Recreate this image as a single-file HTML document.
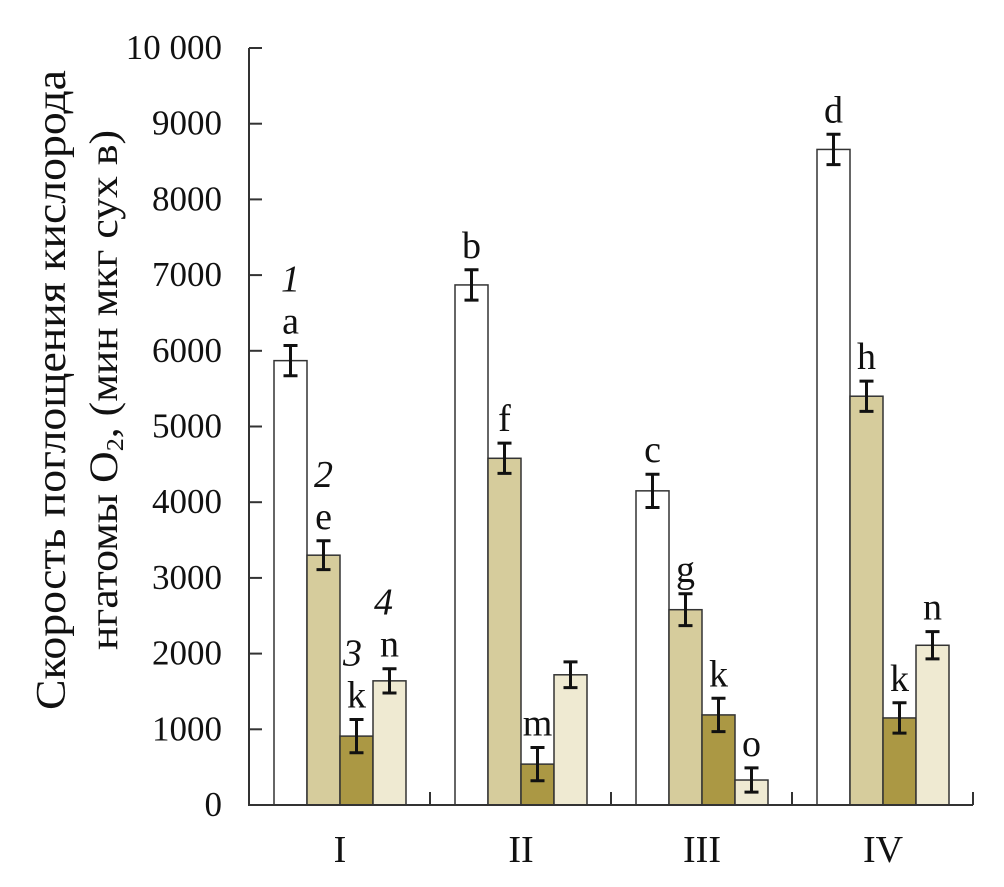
<!DOCTYPE html>
<html><head><meta charset="utf-8"><style>
body{margin:0;background:#fff}
svg text{font-family:"Liberation Serif","Times New Roman",Times,serif;fill:#111}
</style></head><body>
<svg width="1004" height="882">
<g id="chart"></g>
</svg>
<script>
const categories=["I","II","III","IV"];
const s1=[5870,6870,4150,8660];
const s2=[3300,4580,2580,5400];
const s3=[910,540,1190,1150];
const s4=[1640,1720,330,2110];
const errs=[[200,200,220,200],[190,200,210,200],[220,220,220,200],[160,170,160,180]];
const letters=[["a","b","c","d"],["e","f","g","h"],["k","m","k","k"],["n","","o","n"]];
const seriesNums=["1","2","3","4"];
const yTicks=[0,1000,2000,3000,4000,5000,6000,7000,8000,9000,10000];
const yTickLabels=["0","1000","2000","3000","4000","5000","6000","7000","8000","9000","10 000"];
const series=[s1,s2,s3,s4];
const colors=["#ffffff","#d6cc9c","#ab9844","#efead2"];
const ns="http://www.w3.org/2000/svg";
const g=document.getElementById("chart");
const X0=249,X1=973,Y0=805,Ytop=48;
const y=v=>Y0-(v/10000)*(Y0-Ytop);
const catW=(X1-X0)/categories.length;
const x=(ci,si)=>X0+ci*catW+25+si*33;
function el(t,a,txt){const e=document.createElementNS(ns,t);for(const k in a)e.setAttribute(k,a[k]);if(txt!==undefined)e.textContent=txt;g.appendChild(e);return e;}
series.forEach((s,si)=>s.forEach((v,ci)=>{
 const r=el("rect",{x:x(ci,si),y:y(v),width:33,height:Y0-y(v),fill:colors[si],stroke:"#333","stroke-width":1.5});
 
 
 const cx=x(ci,si)+16.5,e=errs[si][ci],t=y(v+e),b=y(v-e);
 const eb=el("path",{d:`M${cx-7},${t}H${cx+7}M${cx},${t}V${b}M${cx-7},${b}H${cx+7}`,stroke:"#111","stroke-width":3,fill:"none"});
 
 
 const L=letters[si][ci];
 if(L){const lt=el("text",{x:cx,y:t-12,"font-size":38,"text-anchor":"middle"},L);
 
 }
 if(ci===0){const nt=el("text",{x:cx+(si===2?-4:0)+(si===3?-6:0),y:t-54,"font-size":38,"font-style":"italic","text-anchor":"middle"},seriesNums[si]);
 
 }
}));
const ax=el("path",{d:`M${X0},${Ytop}V${Y0}H${X1}`,stroke:"#333","stroke-width":2,fill:"none"});


yTicks.forEach((v,i)=>{
 const tk=el("line",{x1:X0,x2:X0+13,y1:y(v),y2:y(v),stroke:"#333","stroke-width":2});
 
 
 const tl=el("text",{x:222,y:y(v)+11,"font-size":35,"text-anchor":"end"},yTickLabels[i]);
 
 
});
categories.forEach((c,ci)=>{
 const tx=X0+(ci+1)*catW;
 const tk=el("line",{x1:tx,x2:tx,y1:Y0,y2:Y0-13,stroke:"#333","stroke-width":2});
 
 
 const cl=el("text",{x:X0+ci*catW+91,y:862,"font-size":38,"text-anchor":"middle"},c);
 
 
});
const t1=el("text",{x:0,y:0,"font-size":42,"text-anchor":"middle",textLength:640,lengthAdjust:"spacingAndGlyphs",transform:"translate(65,390) rotate(-90)"},"Скорость поглощения кислорода");


const t2=el("text",{x:0,y:0,"font-size":40,"text-anchor":"middle",textLength:520,lengthAdjust:"spacingAndGlyphs",transform:"translate(117,390) rotate(-90)"});


t2.innerHTML='нгатомы O<tspan font-size="24" dy="6">2</tspan><tspan dy="-6">, (мин мкг сух в)</tspan>';
</script>
</body></html>
